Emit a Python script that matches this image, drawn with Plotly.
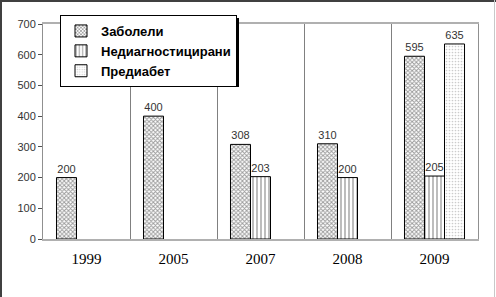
import plotly.graph_objects as go

years = ["1999", "2005", "2007", "2008", "2009"]
zaboleli = [200, 400, 308, 310, 595]
nediag = [None, None, 203, 200, 205]
prediabet = [None, None, None, None, 635]

W, H = 496, 297
ML, MR, MT, MB = 43, 18, 24, 58
PW, PH = W - ML - MR, H - MT - MB

def px(x):
    return (x - ML) / PW

def py(y):
    return (H - MB - y) / PH

def lbl(vals):
    return [str(v) if v is not None else "" for v in vals]

fig = go.Figure()
series = [
    ("Заболели", zaboleli, dict(shape="x", size=3, solidity=0.55, fgcolor="#3a3a3a", bgcolor="#ffffff")),
    ("Недиагностицирани", nediag, dict(shape="|", size=4, solidity=0.3, fgcolor="#202020", bgcolor="#ffffff")),
    ("Предиабет", prediabet, dict(shape=".", size=3, solidity=0.25, fgcolor="#9a9a9a", bgcolor="#ffffff")),
]
for name, vals, pat in series:
    fig.add_trace(go.Bar(
        name=name, x=years, y=vals,
        marker=dict(color="#ffffff", pattern=pat, line=dict(color="#000000", width=1)),
        text=lbl(vals), textposition="outside", cliponaxis=False,
        textfont=dict(family="Liberation Sans, Arial", size=11, color="#333333"),
    ))

fig.update_layout(
    width=W, height=H,
    margin=dict(l=ML, r=MR, t=MT, b=MB),
    paper_bgcolor="#ffffff", plot_bgcolor="#ffffff",
    barmode="group", bargap=0.31, bargroupgap=0,
    font=dict(family="Liberation Sans, Arial", color="#000000"),
    legend=dict(
        x=px(60), y=py(15), xanchor="left", yanchor="top",
        bgcolor="#ffffff", bordercolor="#000000", borderwidth=1,
        font=dict(family="Liberation Sans, Arial", size=13, color="#000000", weight="bold"),
        itemwidth=30, tracegroupgap=0,
    ),
    xaxis=dict(
        type="category", showgrid=True, tickson="boundaries",
        gridcolor="#808080", gridwidth=1,
        showline=True, linecolor="#b0b0b0", linewidth=1.5, mirror=True,
        ticks="", ticklabelstandoff=5,
        tickfont=dict(family="Liberation Serif, Times New Roman", size=15, color="#000000"),
    ),
    yaxis=dict(
        range=[0, 700], dtick=100, showgrid=False,
        showline=True, linecolor="#909090", linewidth=1, mirror=True,
        ticks="outside", ticklen=4, tickcolor="#505050",
        tickfont=dict(family="Liberation Sans, Arial", size=11, color="#333333"),
        zeroline=False,
    ),
    showlegend=True,
)

shapes = [
    # outer frame
    dict(type="line", xref="paper", yref="paper", x0=px(1), x1=px(1), y0=py(0), y1=py(297), line=dict(color="#404040", width=2)),
    dict(type="line", xref="paper", yref="paper", x0=px(0), x1=px(496), y0=py(1), y1=py(1), line=dict(color="#404040", width=2)),
    dict(type="line", xref="paper", yref="paper", x0=px(494.5), x1=px(494.5), y0=py(0), y1=py(297), line=dict(color="#c8c8c8", width=1)),
    # legend shadow
    dict(type="rect", xref="paper", yref="paper", x0=px(63), x1=px(239), y0=py(18), y1=py(87),
         fillcolor="#000000", line=dict(width=0), layer="above"),
]
fig.update_layout(shapes=shapes)
fig.write_html("out.html")
